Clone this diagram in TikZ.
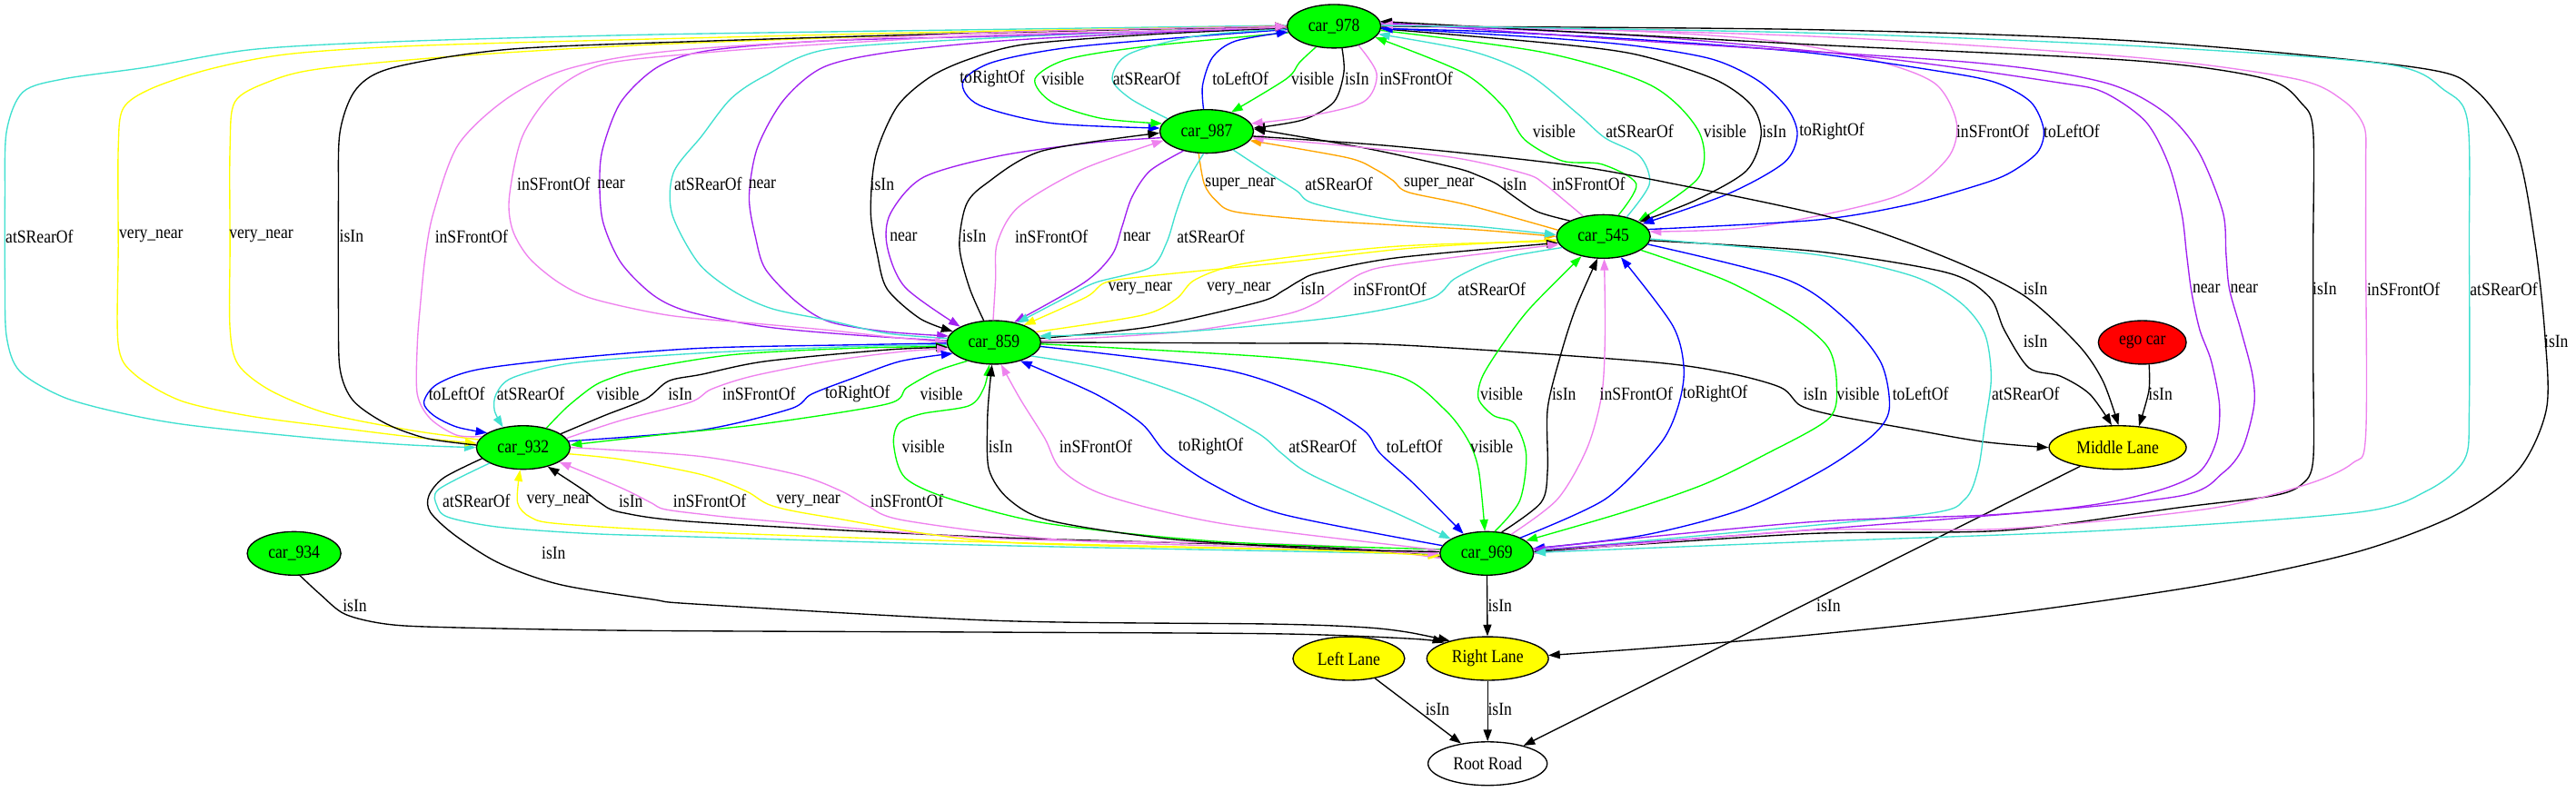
\documentclass[tikz,border=0pt]{standalone}
\usepackage{fontspec}
\setmainfont{Liberation Serif}[FakeStretch=0.87]
\usepackage{tikz}
\usetikzlibrary{arrows.meta, shapes.geometric}

\definecolor{gvGreen}{RGB}{0,255,0}
\definecolor{gvTurq}{RGB}{64,224,208}
\definecolor{gvViolet}{RGB}{238,130,238}
\definecolor{gvPurple}{RGB}{160,32,240}
\definecolor{gvOrange}{RGB}{255,165,0}
\definecolor{gvYellow}{RGB}{255,255,0}
\definecolor{gvBlue}{RGB}{0,0,255}
\definecolor{gvRed}{RGB}{255,0,0}

\begin{document}
\begin{tikzpicture}[x=1pt, y=-1pt, font=\fontsize{11.2}{13}\selectfont,
    obj/.style={ellipse, draw, line width=0.75pt, inner sep=0pt, minimum height=26.5pt},
    car/.style={obj, fill=gvGreen, minimum width=57pt},
    lane/.style={obj, fill=gvYellow},
    rel/.style={line width=0.75pt, -{Triangle[length=7pt,width=5pt]}},
    eIsIn/.style={rel, draw=black},
    eVis/.style={rel, draw=gvGreen},
    eRear/.style={rel, draw=gvTurq},
    eFront/.style={rel, draw=gvViolet},
    eSide/.style={rel, draw=gvBlue},
    eNear/.style={rel, draw=gvPurple},
    eVNear/.style={rel, draw=gvYellow},
    eSNear/.style={rel, draw=gvOrange},
    lbl/.style={inner sep=0pt, text=black}]
    \useasboundingbox (0,0) rectangle (1568,482);

    % Objects
    \node[car] (c978) at (812,16) {car\_978};
    \node[car] (c987) at (734.5,80) {car\_987};
    \node[car] (c545) at (976,144) {car\_545};
    \node[car] (c859) at (605,208.5) {car\_859};
    \node[car] (c932) at (318.5,272.5) {car\_932};
    \node[car] (c969) at (905,337) {car\_969};
    \node[car] (c934) at (179,337) {car\_934};
    \node[obj, fill=gvRed, minimum width=53.5pt] (ego) at (1304,208.5) {ego car};
    \node[lane, minimum width=83.5pt] (mid) at (1289,272.5) {Middle Lane};
    \node[lane, minimum width=68pt] (lft) at (821,401) {Left Lane};
    \node[lane, minimum width=74pt] (rgt) at (905.5,401) {Right Lane};
    \node[obj, minimum width=72.5pt] (root) at (905.5,465) {Root Road};

    % car_978 / car_987
    \draw[eSide] plot[smooth] coordinates {(c978.184) (730,22) (650,29) (604,38) (586,50) (596,64) (640,75) (c987.176)} node[lbl] (l1) at (604,48) {toRightOf};
    \draw[eVis] plot[smooth] coordinates {(c978.188) (700,28) (650,36) (630,48) (640,62) (670,72) (c987.170)} node[lbl] (l2) at (647,48) {visible};
    \draw[eRear] plot[smooth] coordinates {(c987.162) (688,60) (677,48) (687,33) (728,22) (c978.183)} node[lbl] (l3) at (698,48) {atSRearOf};
    \draw[eSide] plot[smooth] coordinates {(c987.98) (732,52) (738,35) (752,25) (c978.187)} node[lbl] (l4) at (755,48) {toLeftOf};
    \draw[eVis] plot[smooth] coordinates {(c978.229) (791,38) (783,48) (c987.38)} node[lbl] (l5) at (799,48) {visible};
    \draw[eIsIn] plot[smooth] coordinates {(c978.290) (818,44) (812,62) (793,73) (c987.4)} node[lbl] (l6) at (826,48) {isIn};
    \draw[eFront] plot[smooth] coordinates {(c978.322) (838,45) (830,62) (795,71) (c987.10)} node[lbl] (l7) at (862,48) {inSFrontOf};

    % car_978 / car_545
    \draw[eVis] plot[smooth] coordinates {(c545.55) (996,112) (975,100) (951,98) (928,85) (915,65) (890,44) (c978.-15)} node[lbl] (l8) at (946,80) {visible};
    \draw[eRear] plot[smooth] coordinates {(c545.40) (1004,112) (998,95) (977,84) (960,69) (930,45) (895,31) (c978.-10)} node[lbl] (l9) at (998,80) {atSRearOf};
    \draw[eVis] plot[smooth] coordinates {(c978.-5) (940,32) (1005,52) (1034,80) (1034,108) (c545.24)} node[lbl] (l10) at (1050,80) {visible};
    \draw[eIsIn] plot[smooth] coordinates {(c978.-3) (940,26) (995,33) (1043,48) (1066,64) (1072,82) (1063,104) (1032,122) (c545.22)} node[lbl] (l11) at (1080,80) {isIn};
    \draw[eSide] plot[smooth] coordinates {(c978.-2) (940,23) (996,28) (1042,36) (1070,49) (1088,66) (1094,82) (1086,99) (1052,118) (c545.18)} node[lbl] (l12) at (1115,80) {toRightOf};
    \draw[eFront] plot[smooth] coordinates {(c978.0) (900,17) (996,19) (1080,25) (1142,37) (1178,51) (1191,75) (1185,97) (1153,120) (1070,138) (c545.6)} node[lbl] (l13) at (1213,80) {inSFrontOf};
    \draw[eSide] plot[smooth] coordinates {(c545.9) (1105,134) (1160,125) (1200,114) (1222,106) (1240,93) (1244,79) (1236,62) (1214,50) (1178,43) (1100,32) (996,24) (900,19) (c978.-3)} node[lbl] (l14) at (1261,80) {toLeftOf};

    % car_987 / car_545
    \draw[eSNear] plot[smooth] coordinates {(c987.250) (733,112) (740,122) (752,129) (800,134) (848,137) (900,140) (c545.180)} node[lbl] (l15) at (755,112) {super\_near};
    \draw[eRear] plot[smooth] coordinates {(c987.-35) (770,104) (789,116) (800,124) (848,134) (900,138) (c545.178)} node[lbl] (l16) at (815,112) {atSRearOf};
    \draw[eSNear] plot[smooth] coordinates {(c545.172) (894,125) (857,117) (848,110) (837,103) (820,96) (c987.-12)} node[lbl] (l17) at (876,112) {super\_near};
    \draw[eIsIn] plot[smooth] coordinates {(c545.155) (936,129) (922,120) (911,112) (900,107) (885,102) (830,90) (c987.3)} node[lbl] (l18) at (922,112) {isIn};
    \draw[eFront] plot[smooth] coordinates {(c545.135) (951,121) (940,112) (929,106) (885,96) (811,88) (c987.-8)} node[lbl] (l19) at (967,112) {inSFrontOf};

    % Lanes
    \draw[eIsIn] plot[smooth] coordinates {(c987.-6) (848,89) (951,100) (1014,111) (1117,133) (1185,157) (1232,180) (1265,210) (1280,232) (mid.88)} node[lbl] (l20) at (1239,176) {isIn};
    \draw[eIsIn] plot[smooth] coordinates {(c545.-5) (1105,153) (1185,166) (1211,181) (1220,201) (1235,224) (1254,229) (1272,240) (mid.105)} node[lbl] (l21) at (1239,208) {isIn};
    \draw[eIsIn] plot[smooth] coordinates {(c859.0) (760,209) (850,210) (1000,220) (1051,227) (1084,236) (1096,247) (1117,253) (1161,261) (1207,269) (mid.180)} node[lbl] (l32) at (1105,240) {isIn};
    \draw[eIsIn] plot[smooth] coordinates {(ego.-73) (1308,238) (mid.45)} node[lbl] (l80) at (1315,240) {isIn};
    \draw[eIsIn] (mid) -- (root) node[lbl] (l76) at (1113,369) {isIn};
    \draw[eIsIn] (c969) -- (rgt) node[lbl] (l77) at (913,369) {isIn};
    \draw[eIsIn] (lft) -- (root) node[lbl] (l78) at (875,432) {isIn};
    \draw[eIsIn] (rgt) -- (root) node[lbl] (l79) at (913,432) {isIn};
    \draw[eIsIn] plot[smooth] coordinates {(c932.195) (270,291) (261,302) (262,312) (277,326) (304,343) (341,356) (397,365) (426,368) (608,378) (774,380) (830,382) (857,385) (rgt.155)} node[lbl] (l81) at (337,337) {isIn};
    \draw[eIsIn] plot[smooth] coordinates {(c934.-75) (195,362) (210,374) (235,380) (272,382) (388,384) (608,385) (780,386) (860,389) (rgt.160)} node[lbl] (l82) at (216,369) {isIn};
    \draw[eIsIn] plot[smooth] coordinates {(c978.0) (1100,18) (1300,25) (1470,41) (1507,55) (1532,92) (1543,148) (1549,203) (1550,249) (1533,286) (1496,313) (1435,336) (1343,356) (1220,374) (1098,387) (1000,395) (rgt.3)} node[lbl] (l75) at (1556,208) {isIn};

    % car_987 / car_859
    \draw[eNear] plot[smooth] coordinates {(c987.188) (664,87) (608,95) (562,108) (542,130) (540,150) (551,175) (c859.155)} node[lbl] (l22) at (550,144) {near};
    \draw[eIsIn] plot[smooth] coordinates {(c859.115) (590,175) (584,150) (588,125) (600,112) (634,92) (c987.182)} node[lbl] (l23) at (593,144) {isIn};
    \draw[eFront] plot[smooth] coordinates {(c859.92) (606,170) (607,148) (620,126) (659,103) (c987.192)} node[lbl] (l24) at (640,144) {inSFrontOf};
    \draw[eNear] plot[smooth] coordinates {(c987.220) (700,104) (689,120) (683,138) (677,155) (660,172) (c859.45)} node[lbl] (l25) at (692,144) {near};
    \draw[eRear] plot[smooth] coordinates {(c987.262) (723,110) (716,129) (710,148) (700,163) (667,172) (649,181) (c859.40)} node[lbl] (l26) at (737,144) {atSRearOf};

    % car_545 / car_859
    \draw[eVNear] plot[smooth] coordinates {(c545.184) (860,151) (780,160) (700,168) (673,172) (661,181) (c859.30)} node[lbl] (l27) at (694,176) {very\_near};
    \draw[eVNear] plot[smooth] coordinates {(c859.14) (695,192) (716,182) (728,170) (760,160) (850,150) (c545.186)} node[lbl] (l28) at (754,176) {very\_near};
    \draw[eIsIn] plot[smooth] coordinates {(c859.5) (700,199) (766,184) (781,177) (791,171) (803,166) (850,157) (c545.188)} node[lbl] (l29) at (799,176) {isIn};
    \draw[eFront] plot[smooth] coordinates {(c859.2) (720,202) (780,192) (800,185) (815,175) (830,166) (852,161) (c545.190)} node[lbl] (l30) at (846,176) {inSFrontOf};
    \draw[eRear] plot[smooth] coordinates {(c545.195) (920,156) (903,161) (885,170) (870,182) (815,193) (720,202) (c859.8)} node[lbl] (l31) at (908,176) {atSRearOf};

    % car_978 / car_859
    \draw[eIsIn] plot[smooth] coordinates {(c978.182) (700,21) (624,27) (590,36) (566,47) (546,65) (533,95) (530,129) (534,155) (540,176) (560,194) (c859.165)} node[lbl] (l33) at (537,112) {isIn};
    \draw[eNear] plot[smooth] coordinates {(c978.181) (700,20) (608,25) (540,32) (501,41) (477,61) (461,90) (456,120) (460,145) (466,164) (485,184) (505,196) (540,202) (c859.172)} node[lbl] (l34) at (464,112) {near};
    \draw[eRear] plot[smooth] coordinates {(c859.175) (540,203) (504,195) (470,188) (446,177) (425,160) (409,130) (410,105) (427,83) (445,60) (466,46) (504,30) (608,23) (700,19) (c978.180)} node[lbl] (l35) at (431,112) {atSRearOf};
    \draw[eNear] plot[smooth] coordinates {(c859.178) (520,204) (466,199) (420,190) (398,180) (378,160) (367,135) (365,110) (367,90) (378,62) (400,41) (430,31) (500,25) (608,22) (700,19) (c978.181)} node[lbl] (l36) at (372,112) {near};
    \draw[eFront] plot[smooth] coordinates {(c978.181) (700,19) (608,21) (500,27) (430,32) (368,39) (338,55) (318,83) (310,120) (312,140) (322,157) (340,172) (361,182) (407,192) (460,197) (504,201) (540,205) (c859.180)} node[lbl] (l37) at (337,112) {inSFrontOf};

    % car_978 / car_932
    \draw[eRear] plot[smooth] coordinates {(c978.179) (600,18) (400,21) (250,25) (155,30) (89,41) (39,48) (14,56) (4,80) (3,120) (3,170) (4,205) (12,226) (39,242) (76,252) (116,259) (194,267) (250,271) (c932.180)} node[lbl] (l38) at (24,144) {atSRearOf};
    \draw[eVNear] plot[smooth] coordinates {(c978.180) (600,19) (388,24) (250,28) (175,33) (128,42) (92,54) (75,66) (72,90) (72,150) (72,210) (82,228) (110,244) (150,253) (194,259) (250,266) (c932.175)} node[lbl] (l39) at (92,144) {very\_near};
    \draw[eVNear] plot[smooth] coordinates {(c932.170) (250,262) (200,252) (165,238) (145,222) (140,200) (140,150) (140,90) (143,62) (163,50) (194,42) (280,34) (400,27) (600,20) (c978.180)} node[lbl] (l40) at (159,144) {very\_near};
    \draw[eIsIn] plot[smooth] coordinates {(c932.177) (260,267) (235,258) (215,244) (207,225) (206,190) (206,120) (207,80) (217,54) (240,41) (310,30) (430,25) (600,20) (c978.180)} node[lbl] (l41) at (214,144) {isIn};
    \draw[eFront] plot[smooth] coordinates {(c932.165) (278,265) (262,255) (254,240) (254,210) (256,184) (259,155) (264,129) (279,88) (310,59) (349,41) (420,30) (600,20) (c978.180)} node[lbl] (l42) at (287,144) {inSFrontOf};

    % car_932 / car_859
    \draw[eSide] plot[smooth] coordinates {(c859.181) (520,210) (427,212) (349,218) (291,225) (266,234) (258,245) (264,253) (278,260) (c932.158)} node[lbl] (l43) at (278,240) {toLeftOf};
    \draw[eRear] plot[smooth] coordinates {(c859.183) (520,211) (427,215) (349,221) (312,230) (302,240) (301,250) (c932.135)} node[lbl] (l44) at (323,240) {atSRearOf};
    \draw[eVis] plot[smooth] coordinates {(c932.40) (345,248) (360,236) (370,231) (390,225) (446,216) (520,212) (c859.185)} node[lbl] (l45) at (376,240) {visible};
    \draw[eIsIn] plot[smooth] coordinates {(c932.20) (368,253) (393,243) (407,232) (427,228) (466,220) (540,213) (c859.186)} node[lbl] (l46) at (414,240) {isIn};
    \draw[eFront] plot[smooth] coordinates {(c932.12) (378,256) (420,245) (433,237) (458,229) (504,220) (550,214) (c859.188)} node[lbl] (l47) at (462,240) {inSFrontOf};
    \draw[eSide] plot[smooth] coordinates {(c932.8) (426,262) (481,249) (494,240) (520,230) (548,220) (c859.195)} node[lbl] (l48) at (522,240) {toRightOf};
    \draw[eVis] plot[smooth] coordinates {(c859.215) (570,226) (552,236) (540,246) (465,258) (400,265) (c932.3)} node[lbl] (l49) at (573,240) {visible};

    % car_932 / car_969
    \draw[eRear] plot[smooth] coordinates {(c932.205) (267,298) (266,308) (273,315) (304,321) (360,325) (426,327) (600,332) (800,336) (c969.181)} node[lbl] (l50) at (290,305) {atSRearOf};
    \draw[eVNear] plot[smooth] coordinates {(c969.182) (800,335) (600,330) (426,324) (341,319) (323,315) (315,306) (c932.262)} node[lbl] (l51) at (340,305) {very\_near};
    \draw[eIsIn] plot[smooth] coordinates {(c969.184) (800,333) (600,327) (426,318) (378,312) (365,306) (356,299) (c932.-38)} node[lbl] (l52) at (384,305) {isIn};
    \draw[eFront] plot[smooth] coordinates {(c969.186) (800,332) (608,328) (466,317) (426,313) (404,310) (396,306) (378,297) (c932.-22)} node[lbl] (l53) at (432,305) {inSFrontOf};
    \draw[eVNear] plot[smooth] coordinates {(c932.-8) (380,280) (427,289) (454,299) (470,308) (505,315) (608,330) (800,335) (c969.183)} node[lbl] (l54) at (492,305) {very\_near};
    \draw[eFront] plot[smooth] coordinates {(c932.0) (427,278) (485,289) (512,299) (528,308) (551,317) (650,329) (800,334) (c969.180)} node[lbl] (l55) at (552,305) {inSFrontOf};

    % car_859 / car_969
    \draw[eVis] plot[smooth] coordinates {(c969.175) (745,330) (639,319) (579,304) (551,291) (544,271) (547,258) (561,252) (590,247) (599,236) (c859.258)} node[lbl] (l56) at (562,272) {visible};
    \draw[eIsIn] plot[smooth] coordinates {(c969.178) (800,334) (710,328) (639,317) (614,304) (602,286) (601,258) (602,240) (c859.265)} node[lbl] (l57) at (609,272) {isIn};
    \draw[eFront] plot[smooth] coordinates {(c969.176) (745,319) (674,302) (646,286) (636,267) (621,243) (c859.-72)} node[lbl] (l58) at (667,272) {inSFrontOf};
    \draw[eSide] plot[smooth] coordinates {(c969.170) (780,313) (738,295) (710,276) (695,258) (667,240) (c859.-35)} node[lbl] (l59) at (737,272) {toRightOf};
    \draw[eRear] plot[smooth] coordinates {(c859.-20) (674,225) (727,243) (766,264) (780,276) (798,289) (851,313) (c969.158)} node[lbl] (l60) at (805,272) {atSRearOf};
    \draw[eSide] plot[smooth] coordinates {(c859.-5) (745,225) (798,243) (830,262) (840,276) (861,295) (c969.140)} node[lbl] (l61) at (861,272) {toLeftOf};
    \draw[eVis] plot[smooth] coordinates {(c859.-2) (780,218) (851,229) (879,249) (893,267) (900,286) (c969.95)} node[lbl] (l62) at (908,272) {visible};

    % car_545 / car_969
    \draw[eVis] plot[smooth] coordinates {(c969.70) (925,305) (929,277) (922,258) (909,253) (900,243) (902,230) (913,212) (931,188) (c545.222)} node[lbl] (l63) at (914,240) {visible};
    \draw[eIsIn] plot[smooth] coordinates {(c969.55) (938,306) (942,286) (942,249) (950,216) (959,188) (c545.255)} node[lbl] (l64) at (952,240) {isIn};
    \draw[eFront] plot[smooth] coordinates {(c969.38) (948,304) (966,273) (975,240) (977,203) (c545.-88)} node[lbl] (l65) at (996,240) {inSFrontOf};
    \draw[eSide] plot[smooth] coordinates {(c969.25) (977,304) (1010,271) (1021,249) (1025,225) (1018,198) (c545.-50)} node[lbl] (l66) at (1044,240) {toRightOf};
    \draw[eVis] plot[smooth] coordinates {(c545.-20) (1051,171) (1091,193) (1113,212) (1118,235) (1113,255) (1074,277) (1037,295) (988,312) (c969.18)} node[lbl] (l67) at (1131,240) {visible};
    \draw[eSide] plot[smooth] coordinates {(c545.-10) (1087,170) (1123,194) (1145,221) (1150,249) (1140,265) (1110,286) (1061,310) (1000,326) (c969.6)} node[lbl] (l68) at (1169,240) {toLeftOf};
    \draw[eRear] plot[smooth] coordinates {(c545.-3) (1105,155) (1164,168) (1193,184) (1208,203) (1212,230) (1208,260) (1204,286) (1196,304) (1172,313) (1037,326) (c969.3)} node[lbl] (l69) at (1233,240) {atSRearOf};

    % car_978 / car_969
    \draw[eNear] plot[smooth] coordinates {(c978.3) (1000,22) (1150,36) (1251,50) (1280,56) (1306,74) (1320,100) (1328,130) (1331,155) (1334,178) (1339,201) (1346,220) (1351,247) (1349,269) (1338,288) (1309,300) (1254,310) (1098,323) (c969.4)} node[lbl] (l70) at (1343,176) {near};
    \draw[eNear] plot[smooth] coordinates {(c969.6) (1100,318) (1220,313) (1327,302) (1353,288) (1365,273) (1372,247) (1371,228) (1364,201) (1357,176) (1355,155) (1353,129) (1338,92) (1317,68) (1280,50) (1200,38) (1000,25) (c978.5)} node[lbl] (l71) at (1366,176) {near};
    \draw[eIsIn] plot[smooth] coordinates {(c969.2) (1100,325) (1220,323) (1327,309) (1383,302) (1401,295) (1408,280) (1408,220) (1408,150) (1408,80) (1401,63) (1379,48) (1300,37) (1100,27) (c978.6)} node[lbl] (l72) at (1415,176) {isIn};
    \draw[eFront] plot[smooth] coordinates {(c969.0) (1100,323) (1220,322) (1343,310) (1404,295) (1432,282) (1440,265) (1440,150) (1440,100) (1439,77) (1426,61) (1397,48) (1300,35) (1100,22) (c978.2)} node[lbl] (l73) at (1463,176) {inSFrontOf};
    \draw[eRear] plot[smooth] coordinates {(c978.1) (1100,20) (1300,28) (1452,39) (1488,55) (1502,74) (1503,150) (1503,249) (1500,280) (1477,299) (1435,312) (1282,323) (1098,330) (c969.1)} node[lbl] (l74) at (1524,176) {atSRearOf};
\end{tikzpicture}
\end{document}
